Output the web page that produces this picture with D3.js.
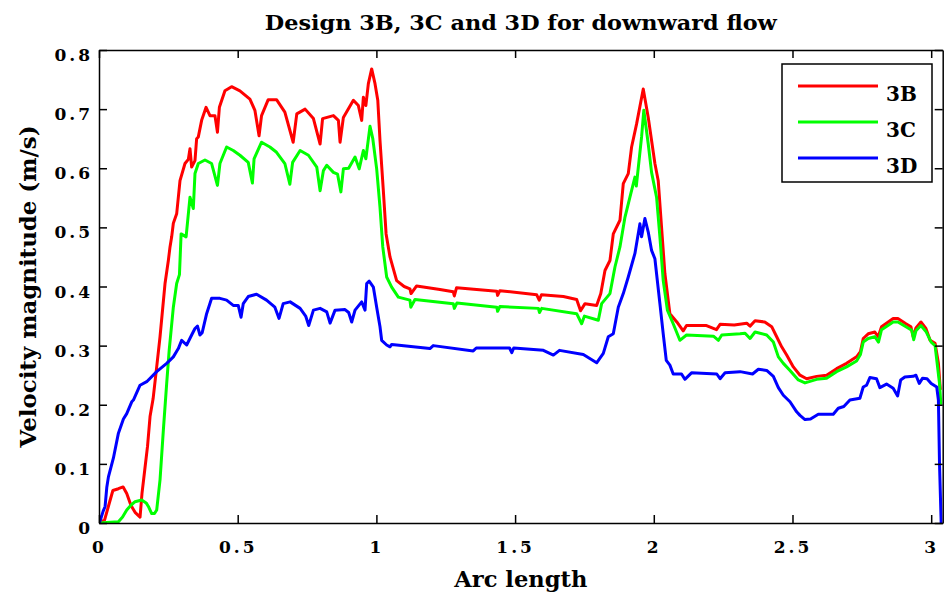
<!DOCTYPE html>
<html>
<head>
<meta charset="utf-8">
<script src="https://cdn.jsdelivr.net/npm/d3@7"></script>
<style>
body { margin: 0; background: #fff; }
svg { display: block; }
.axis .domain, .axis .tick line { stroke: #000; stroke-width: 1.5; }
.axis text { font-family: "DejaVu Serif", serif; font-weight: bold; font-size: 17px; fill: #000; letter-spacing: 3px; }
.lbl { font-family: "DejaVu Serif", serif; font-weight: bold; fill: #000; }
</style>
</head>
<body>
<svg id="chart" width="952" height="596"></svg>
<script>
// data (arc length, velocity magnitude)
var seriesNames = ["3B", "3C", "3D"];
var seriesColors = ["#ff0000", "#00ff00", "#0000ff"];

var arcB = [0,0.02,0.035,0.05,0.07,0.087,0.1,0.115,0.13,0.148,0.155,0.165,0.175,0.184,0.195,0.208,0.22,0.238,0.25,0.256,0.262,0.268,0.28,0.292,0.31,0.322,0.328,0.334,0.346,0.352,0.358,0.37,0.386,0.40,0.418,0.427,0.434,0.454,0.478,0.508,0.544,0.562,0.577,0.586,0.61,0.64,0.67,0.70,0.713,0.743,0.773,0.797,0.806,0.845,0.863,0.869,0.881,0.917,0.935,0.947,0.953,0.962,0.971,0.983,0.995,1.005,1.013,1.025,1.035,1.049,1.073,1.1,1.121,1.125,1.145,1.229,1.277,1.281,1.289,1.434,1.437,1.445,1.578,1.587,1.595,1.674,1.722,1.736,1.752,1.794,1.809,1.824,1.842,1.854,1.878,1.89,1.908,1.92,1.938,1.962,1.98,1.992,2.004,2.016,2.028,2.04,2.058,2.083,2.106,2.118,2.19,2.226,2.239,2.29,2.335,2.347,2.365,2.40,2.425,2.443,2.461,2.479,2.503,2.527,2.551,2.587,2.623,2.659,2.695,2.731,2.745,2.755,2.773,2.797,2.809,2.821,2.863,2.88,2.909,2.927,2.935,2.945,2.963,2.981,2.996,3.014,3.026,3.033];
var velB = [0,0.005,0.03,0.055,0.058,0.061,0.05,0.03,0.018,0.01,0.05,0.09,0.13,0.18,0.21,0.264,0.315,0.405,0.444,0.467,0.484,0.507,0.523,0.579,0.608,0.615,0.633,0.602,0.613,0.65,0.653,0.681,0.703,0.689,0.689,0.661,0.703,0.731,0.738,0.731,0.717,0.698,0.655,0.689,0.716,0.716,0.695,0.644,0.692,0.70,0.684,0.641,0.684,0.689,0.681,0.644,0.686,0.715,0.706,0.681,0.72,0.706,0.743,0.768,0.743,0.715,0.647,0.562,0.489,0.45,0.41,0.40,0.396,0.388,0.401,0.395,0.391,0.384,0.398,0.392,0.385,0.393,0.386,0.377,0.386,0.383,0.378,0.359,0.371,0.368,0.388,0.427,0.444,0.489,0.512,0.574,0.591,0.636,0.675,0.734,0.686,0.647,0.608,0.579,0.50,0.422,0.354,0.34,0.325,0.334,0.334,0.327,0.336,0.335,0.338,0.333,0.342,0.34,0.332,0.315,0.298,0.284,0.264,0.25,0.244,0.248,0.25,0.261,0.27,0.281,0.29,0.312,0.32,0.323,0.315,0.332,0.346,0.346,0.337,0.332,0.315,0.33,0.34,0.329,0.309,0.304,0.27,0.225];

var arcC = [0,0.07,0.085,0.10,0.115,0.13,0.154,0.17,0.178,0.19,0.2,0.208,0.22,0.232,0.244,0.253,0.268,0.28,0.29,0.296,0.314,0.328,0.34,0.346,0.358,0.382,0.406,0.427,0.436,0.46,0.484,0.508,0.538,0.553,0.559,0.586,0.616,0.64,0.67,0.688,0.698,0.725,0.755,0.785,0.797,0.809,0.821,0.845,0.86,0.872,0.881,0.9,0.923,0.938,0.953,0.962,0.977,0.987,1.001,1.013,1.023,1.037,1.055,1.079,1.121,1.124,1.139,1.277,1.281,1.29,1.434,1.437,1.445,1.584,1.588,1.596,1.722,1.74,1.75,1.8,1.812,1.842,1.86,1.878,1.896,1.914,1.932,1.937,1.956,1.964,1.98,1.992,2.01,2.022,2.034,2.049,2.07,2.094,2.118,2.215,2.233,2.245,2.311,2.329,2.347,2.365,2.407,2.431,2.449,2.467,2.491,2.521,2.545,2.587,2.623,2.659,2.695,2.731,2.745,2.755,2.773,2.797,2.81,2.821,2.863,2.88,2.909,2.93,2.937,2.945,2.963,2.981,3.0,3.014,3.03,3.035];
var velC = [0,0.002,0.01,0.022,0.03,0.036,0.039,0.034,0.028,0.016,0.016,0.022,0.073,0.157,0.236,0.292,0.365,0.405,0.42,0.489,0.484,0.551,0.532,0.591,0.608,0.614,0.608,0.571,0.608,0.636,0.63,0.622,0.61,0.575,0.616,0.644,0.636,0.627,0.608,0.573,0.61,0.63,0.622,0.602,0.562,0.596,0.605,0.593,0.59,0.56,0.599,0.6,0.619,0.599,0.63,0.616,0.671,0.65,0.599,0.534,0.467,0.416,0.399,0.382,0.377,0.365,0.378,0.371,0.363,0.372,0.365,0.358,0.366,0.363,0.356,0.363,0.354,0.337,0.35,0.343,0.371,0.388,0.433,0.467,0.517,0.551,0.585,0.57,0.653,0.698,0.641,0.593,0.551,0.484,0.41,0.36,0.337,0.309,0.318,0.316,0.309,0.318,0.32,0.321,0.312,0.323,0.318,0.306,0.281,0.27,0.258,0.242,0.237,0.243,0.245,0.256,0.264,0.274,0.285,0.306,0.312,0.315,0.306,0.327,0.34,0.34,0.332,0.326,0.31,0.325,0.334,0.324,0.306,0.3,0.236,0.2];

var arcD = [0,0.005,0.015,0.022,0.028,0.034,0.052,0.07,0.088,0.1,0.118,0.124,0.148,0.172,0.208,0.244,0.268,0.286,0.298,0.316,0.334,0.346,0.355,0.364,0.372,0.388,0.406,0.436,0.46,0.484,0.502,0.512,0.52,0.538,0.568,0.604,0.634,0.649,0.664,0.689,0.725,0.745,0.756,0.773,0.797,0.821,0.833,0.851,0.887,0.9,0.911,0.923,0.947,0.959,0.965,0.974,0.989,1.001,1.013,1.019,1.037,1.049,1.055,1.073,1.193,1.205,1.349,1.36,1.48,1.488,1.495,1.602,1.638,1.66,1.746,1.794,1.818,1.836,1.854,1.872,1.89,1.908,1.932,1.95,1.956,1.968,1.98,1.992,2.004,2.022,2.034,2.045,2.058,2.07,2.1,2.112,2.136,2.227,2.239,2.257,2.311,2.356,2.377,2.407,2.431,2.449,2.467,2.491,2.515,2.527,2.545,2.565,2.593,2.647,2.665,2.685,2.707,2.743,2.755,2.767,2.779,2.803,2.815,2.839,2.863,2.879,2.89,2.905,2.935,2.945,2.957,2.969,2.985,3.0,3.02,3.026,3.03,3.036];
var velD = [0,0.005,0.02,0.028,0.06,0.078,0.11,0.152,0.176,0.185,0.205,0.208,0.233,0.239,0.256,0.27,0.281,0.295,0.309,0.301,0.318,0.329,0.333,0.318,0.322,0.354,0.38,0.38,0.377,0.368,0.368,0.348,0.371,0.383,0.387,0.377,0.365,0.346,0.371,0.374,0.363,0.35,0.334,0.36,0.363,0.357,0.338,0.36,0.361,0.356,0.34,0.36,0.374,0.36,0.405,0.409,0.399,0.365,0.332,0.309,0.301,0.298,0.302,0.301,0.295,0.30,0.291,0.296,0.296,0.288,0.296,0.292,0.284,0.292,0.285,0.271,0.287,0.315,0.32,0.365,0.388,0.416,0.456,0.506,0.484,0.515,0.492,0.461,0.447,0.371,0.32,0.275,0.267,0.252,0.252,0.243,0.254,0.252,0.244,0.254,0.256,0.252,0.26,0.258,0.248,0.229,0.216,0.205,0.188,0.182,0.175,0.176,0.184,0.184,0.194,0.197,0.208,0.211,0.23,0.233,0.246,0.244,0.229,0.235,0.228,0.215,0.242,0.247,0.248,0.25,0.236,0.245,0.244,0.236,0.23,0.208,0.1,0];

var xTicks = [0, 0.5, 1, 1.5, 2, 2.5, 3];
var xTickLabels = ["0", "0.5", "1", "1.5", "2", "2.5", "3"];
var yTicks = [0, 0.1, 0.2, 0.3, 0.4, 0.5, 0.6, 0.7, 0.8];
var yTickLabels = ["0", "0.1", "0.2", "0.3", "0.4", "0.5", "0.6", "0.7", "0.8"];

var svg = d3.select("#chart"),
    margin = {top: 50, right: 9.3, bottom: 73, left: 99},
    width = +svg.attr("width") - margin.left - margin.right,
    height = +svg.attr("height") - margin.top - margin.bottom;

var g = svg.append("g")
    .attr("transform", "translate(" + margin.left + "," + margin.top + ")");

var x = d3.scaleLinear().domain([0, 3.0415]).range([0, width]);
var y = d3.scaleLinear().domain([0, 0.8]).range([height, 0]);

var seriesData = [
    d3.zip(arcB, velB),
    d3.zip(arcC, velC),
    d3.zip(arcD, velD)
];

var line = d3.line()
    .x(function(d) { return x(d[0]); })
    .y(function(d) { return y(d[1]); });

g.append("clipPath").attr("id", "clip")
    .append("rect").attr("width", width).attr("height", height + 2).attr("y", -1);

g.selectAll(".curve")
    .data(seriesData)
    .enter().append("path")
    .attr("class", "curve")
    .attr("clip-path", "url(#clip)")
    .attr("d", line)
    .attr("fill", "none")
    .attr("stroke", function(d, i) { return seriesColors[i]; })
    .attr("stroke-width", 3)
    .attr("stroke-linejoin", "round");

// axes, MATLAB style: ticks inward on all four sides
g.append("g").attr("class", "axis")
    .attr("transform", "translate(0," + height + ")")
    .call(d3.axisBottom(x).tickValues(xTicks).tickSizeInner(-8).tickSizeOuter(0).tickPadding(18)
        .tickFormat(function(d, i) { return xTickLabels[i]; }));

g.append("g").attr("class", "axis")
    .call(d3.axisTop(x).tickValues(xTicks).tickSizeInner(-8).tickSizeOuter(0).tickFormat(""));

var yAx = g.append("g").attr("class", "axis")
    .call(d3.axisLeft(y).tickValues(yTicks).tickSizeInner(-8).tickSizeOuter(0).tickPadding(6)
        .tickFormat(function(d, i) { return yTickLabels[i]; }));
yAx.selectAll("text").attr("dy", "0.62em");

g.append("g").attr("class", "axis")
    .attr("transform", "translate(" + width + ",0)")
    .call(d3.axisRight(y).tickValues(yTicks).tickSizeInner(-8).tickSizeOuter(0).tickFormat(""));

// title and axis labels
svg.append("text").attr("class", "lbl")
    .attr("x", margin.left + width / 2).attr("y", 30)
    .attr("text-anchor", "middle")
    .attr("font-size", 21)
    .attr("textLength", 512).attr("lengthAdjust", "spacingAndGlyphs")
    .text("Design 3B, 3C and 3D for downward flow");

svg.append("text").attr("class", "lbl")
    .attr("x", margin.left + width / 2).attr("y", 587)
    .attr("text-anchor", "middle")
    .attr("font-size", 22)
    .attr("textLength", 133).attr("lengthAdjust", "spacingAndGlyphs")
    .text("Arc length");

svg.append("text").attr("class", "lbl")
    .attr("transform", "translate(36," + (margin.top + height / 2) + ") rotate(-90)")
    .attr("text-anchor", "middle")
    .attr("font-size", 23)
    .attr("textLength", 322).attr("lengthAdjust", "spacingAndGlyphs")
    .text("Velocity magnitude (m/s)");

// legend
var legend = svg.append("g").attr("transform", "translate(782,64)");

legend.append("rect")
    .attr("width", 150).attr("height", 118)
    .attr("fill", "#fff").attr("stroke", "#000").attr("stroke-width", 1.5);

var item = legend.selectAll(".item")
    .data(seriesNames)
    .enter().append("g")
    .attr("class", "item")
    .attr("transform", function(d, i) { return "translate(0," + (22 + i * 36) + ")"; });

item.append("line")
    .attr("x1", 16).attr("x2", 96)
    .attr("stroke", function(d, i) { return seriesColors[i]; })
    .attr("stroke-width", 3);

item.append("text").attr("class", "lbl")
    .attr("x", 104).attr("y", 15)
    .attr("font-size", 20)
    .text(function(d) { return d; });
</script>
</body>
</html>
